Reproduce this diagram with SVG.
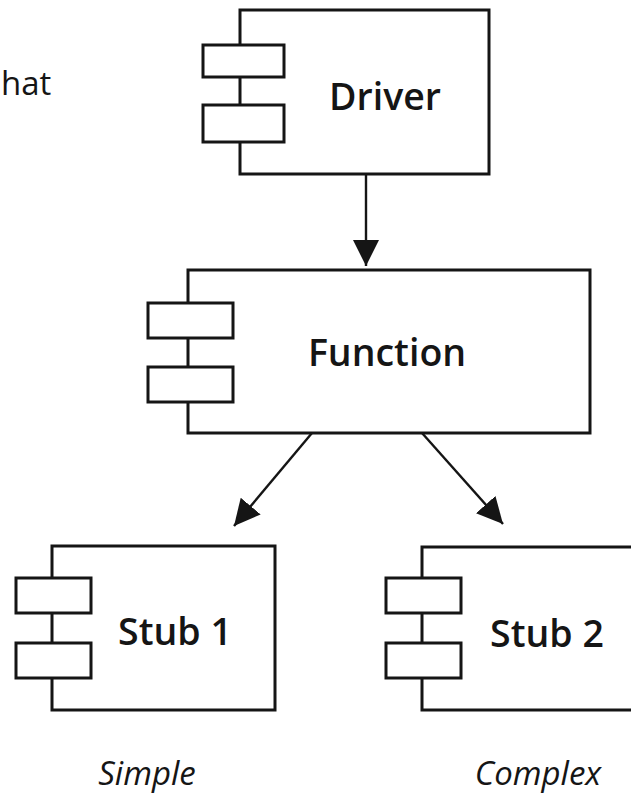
<svg xmlns="http://www.w3.org/2000/svg" width="631" height="799" viewBox="0 0 631 799">
<style>
.box{fill:#fff;stroke:#151515;stroke-width:3}
.port{fill:#fff;stroke:#151515;stroke-width:3}
.lbl{font-family:"Open Sans","DejaVu Sans",sans-serif;font-weight:600;font-size:37.5px;fill:#151515}
.cap{font-family:"Open Sans","DejaVu Sans",sans-serif;font-style:italic;font-weight:500;font-size:33px;fill:#151515}
.edge{stroke:#151515;stroke-width:2.4;fill:none}
</style>
<defs>
<marker id="arr" viewBox="0 0 10 10" refX="10" refY="5" markerUnits="userSpaceOnUse" markerWidth="26" markerHeight="26" orient="auto">
<path d="M0,0 L10,5 L0,10 z" fill="#151515"/>
</marker>
</defs>
<rect width="631" height="799" fill="#fff"/>
<text class="lbl" x="1" y="95" style="font-weight:500;font-size:33px">hat</text>
<g id="driver">
<rect class="box" x="240" y="10" width="249" height="164"/>
<rect class="port" x="203" y="45" width="81" height="32"/>
<rect class="port" x="203" y="105" width="81" height="37"/>
<text class="lbl" x="385" y="110" text-anchor="middle">Driver</text>
</g>
<g id="function">
<rect class="box" x="188" y="270" width="402" height="163"/>
<rect class="port" x="148" y="303" width="85" height="35"/>
<rect class="port" x="148" y="367" width="85" height="35"/>
<text class="lbl" x="387" y="366" text-anchor="middle">Function</text>
</g>
<g id="stub1">
<rect class="box" x="52" y="546" width="223" height="164"/>
<rect class="port" x="16" y="578" width="75" height="35"/>
<rect class="port" x="16" y="643" width="75" height="35"/>
<text class="lbl" x="175" y="645" text-anchor="middle">Stub 1</text>
</g>
<g id="stub2">
<rect class="box" x="422" y="547" width="230" height="163"/>
<rect class="port" x="386" y="578" width="75" height="35"/>
<rect class="port" x="386" y="643" width="75" height="35"/>
<text class="lbl" x="547" y="647" text-anchor="middle">Stub 2</text>
</g>
<g id="connectors">
<line class="edge" x1="366" y1="174" x2="366" y2="266" marker-end="url(#arr)"/>
<line class="edge" x1="312" y1="433" x2="234" y2="526" marker-end="url(#arr)"/>
<line class="edge" x1="422" y1="433" x2="503" y2="524" marker-end="url(#arr)"/>
</g>
<text class="cap" x="147" y="785" text-anchor="middle">Simple</text>
<text class="cap" x="538" y="785" text-anchor="middle">Complex</text>
</svg>
